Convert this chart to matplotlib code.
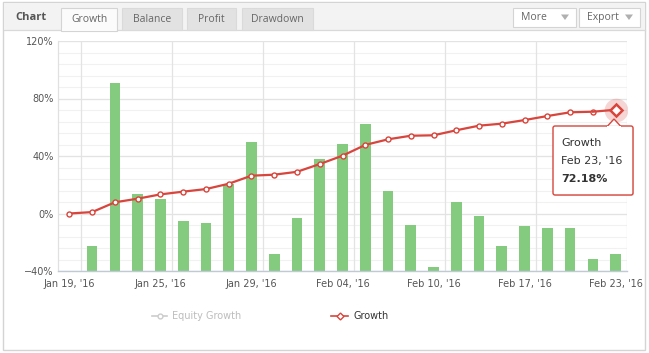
import matplotlib
matplotlib.use("Agg")
import matplotlib.pyplot as plt
from matplotlib.patches import Rectangle, FancyBboxPatch, Polygon, Circle

# ---------------- data ----------------
dates = ["Jan 19, '16", "Jan 20, '16", "Jan 21, '16", "Jan 22, '16", "Jan 25, '16",
         "Jan 26, '16", "Jan 27, '16", "Jan 28, '16", "Jan 29, '16", "Feb 01, '16",
         "Feb 02, '16", "Feb 03, '16", "Feb 04, '16", "Feb 05, '16", "Feb 08, '16",
         "Feb 09, '16", "Feb 10, '16", "Feb 11, '16", "Feb 12, '16", "Feb 15, '16",
         "Feb 17, '16", "Feb 18, '16", "Feb 19, '16", "Feb 22, '16", "Feb 23, '16"]
growth = [0, 1, 7.8, 10.3, 13.3, 15.2, 17, 20.7, 26.3, 27, 29, 34.4, 40.2, 47.7,
          51.6, 54.1, 54.4, 57.9, 61.1, 62.5, 65, 67.8, 70.4, 70.8, 72.18]
# daily bars (first day has none)
daily = [None, -22.4, 91, 13.3, 9.9, -5.4, -6.8, 20.5, 49.5, -28, -3.4, 37.7, 48.1,
         62, 15.4, -8.2, -37.4, 8.2, -2, -22.4, -8.5, -9.9, -9.9, -31.9, -28.4]
ytick_vals = [-40, 0, 40, 80, 120]
ytick_labels = ["\u221240%", "0%", "40%", "80%", "120%"]
tick_idx = [0, 4, 8, 12, 16, 20, 24]
tabs = ["Growth", "Balance", "Profit", "Drawdown"]
legend_labels = ["Equity Growth", "Growth"]

W, H = 649, 353
fig = plt.figure(figsize=(W / 100, H / 100), dpi=100)
fig.patch.set_facecolor("white")

RED = "#d8453c"
GREEN = "#85cb7f"
YMIN, YMAX = -40, 120

# plot area in pixels
L, R, T, B = 58, 627, 41, 271
ax = fig.add_axes([L / W, 1 - B / H, (R - L) / W, (B - T) / H])
ax.set_facecolor("white")
ax.set_xlim(-0.5, len(dates) - 0.5)
ax.set_ylim(YMIN, YMAX)

# grid
for v in range(YMIN, YMAX + 1, 8):
    ax.axhline(v, color="#f1f1f1", lw=0.8, zorder=0)
for v in ytick_vals:
    ax.axhline(v, color="#e3e3e3", lw=0.9, zorder=0)
for i in tick_idx:
    ax.axvline(i + 0.5, color="#e3e3e3", lw=0.9, zorder=0)

# bars, rising from the bottom of the axis
bx = [i for i, v in enumerate(daily) if v is not None]
bh = [daily[i] - YMIN for i in bx]
ax.bar(bx, bh, bottom=YMIN, width=0.47, color=GREEN, zorder=2)

# growth line
xs = list(range(len(growth)))
ax.plot(xs[:-1], growth[:-1], color=RED, lw=1.6, zorder=3,
        marker="o", ms=3.6, mfc="white", mec=RED, mew=1.0)
ax.plot(xs[-2:], growth[-2:], color=RED, lw=1.6, zorder=3)
ax.plot([xs[-1]], [growth[-1]], marker="o", ms=17, color=RED, alpha=0.22,
        mew=0, zorder=4)
ax.plot([xs[-1]], [growth[-1]], marker="D", ms=6, mfc="white", mec=RED,
        mew=1.8, zorder=5)

ax.set_yticks(ytick_vals)
ax.set_yticklabels(ytick_labels)
ax.set_xticks(tick_idx)
ax.set_xticklabels([dates[i] for i in tick_idx])
ax.tick_params(axis="both", length=0, labelsize=7, colors="#555555")
ax.tick_params(axis="y", pad=3)
ax.tick_params(axis="x", pad=6)
for s in ["top", "right"]:
    ax.spines[s].set_visible(False)
ax.spines["left"].set_color("#e0e0e0")
ax.spines["left"].set_linewidth(0.9)
ax.spines["bottom"].set_color("#c0cad6")
ax.spines["bottom"].set_linewidth(1.0)

# ---------------- overlay chrome ----------------
ov = fig.add_axes([0, 0, 1, 1])
ov.set_xlim(0, W)
ov.set_ylim(H, 0)
ov.axis("off")
ov.patch.set_alpha(0)

# outer frame
ov.add_patch(Rectangle((3, 2), 642, 348, fill=False, ec="#d4d4d4", lw=1.0))
# header band
ov.add_patch(Rectangle((3.5, 2.5), 641, 27.5, fc="#f3f3f3", ec="none"))
ov.plot([3.5, 644.5], [30, 30], color="#d9d9d9", lw=0.9)

ov.text(15, 18, "Chart", fontsize=8, fontweight="bold", color="#555555",
        family="Open Sans", va="center", ha="left")

tab_x = [(61, 117), (122, 182), (187, 236), (242, 313)]
for k, (name, (x0, x1)) in enumerate(zip(tabs, tab_x)):
    active = k == 0
    fc = "#fbfbfb" if active else "#e2e2e2"
    bottom = 30.5 if active else 29.5
    ov.add_patch(Rectangle((x0, 8), x1 - x0, bottom - 8, fc=fc,
                           ec="#d4d4d4" if active else "#dadada", lw=0.8,
                           zorder=3))
    if active:
        ov.add_patch(Rectangle((x0 + 0.6, 28), x1 - x0 - 1.2, 3, fc=fc,
                               ec="none", zorder=4))
    ov.text((x0 + x1) / 2, 19, name, fontsize=7.5, color="#666666",
            family="Open Sans", ha="center", va="center", zorder=5)

for name, (x0, x1) in [("More", (513, 576)), ("Export", (579, 640))]:
    ov.add_patch(Rectangle((x0, 8), x1 - x0, 19, fc="white", ec="#d4d4d4",
                           lw=0.8, zorder=3))
    ov.text(x0 + 8, 17.5, name, fontsize=7.5, color="#666666",
            family="Open Sans", ha="left", va="center", zorder=5)
    ov.add_patch(Polygon([[x1 - 15, 14.5], [x1 - 7, 14.5], [x1 - 11, 20]],
                         closed=True, fc="#b0b0b0", ec="none", zorder=5))

# legend
ov.plot([152, 167], [316, 316], color="#cccccc", lw=1.2)
ov.plot([159.5], [316], marker="o", ms=3.5, mfc="white", mec="#cccccc", mew=1.0)
ov.text(172, 316, legend_labels[0], fontsize=7, color="#bdbdbd",
        ha="left", va="center")
ov.plot([331, 348], [316, 316], color=RED, lw=1.2)
ov.plot([339.5], [316], marker="D", ms=3.5, mfc="white", mec=RED, mew=1.0)
ov.text(353, 316, legend_labels[1], fontsize=7, color="#333333",
        ha="left", va="center")

# tooltip
ov.add_patch(FancyBboxPatch((554, 127), 80, 69,
                            boxstyle="round,pad=0,rounding_size=2",
                            fc="#dddddd", ec="none", alpha=0.6, zorder=5,
                            transform=ov.transData))
ov.add_patch(FancyBboxPatch((553, 126), 80, 69,
                            boxstyle="round,pad=0,rounding_size=2",
                            fc="white", ec=RED, lw=1.0, zorder=6))
ov.add_patch(Polygon([[607, 126.6], [614, 119], [621, 126.6]], closed=True,
                     fc="white", ec=RED, lw=1.0, zorder=7))
ov.plot([607.8, 620.2], [126.6, 126.6], color="white", lw=1.5, zorder=8)
ov.text(561, 143, legend_labels[1], fontsize=8, color="#333333",
        ha="left", va="center", zorder=9)
ov.text(561, 161, dates[-1], fontsize=8, color="#333333",
        ha="left", va="center", zorder=9)
ov.text(561, 179, f"{growth[-1]:.2f}%", fontsize=8, fontweight="bold",
        color="#333333", ha="left", va="center", zorder=9)

fig.savefig("out.png", dpi=100)
